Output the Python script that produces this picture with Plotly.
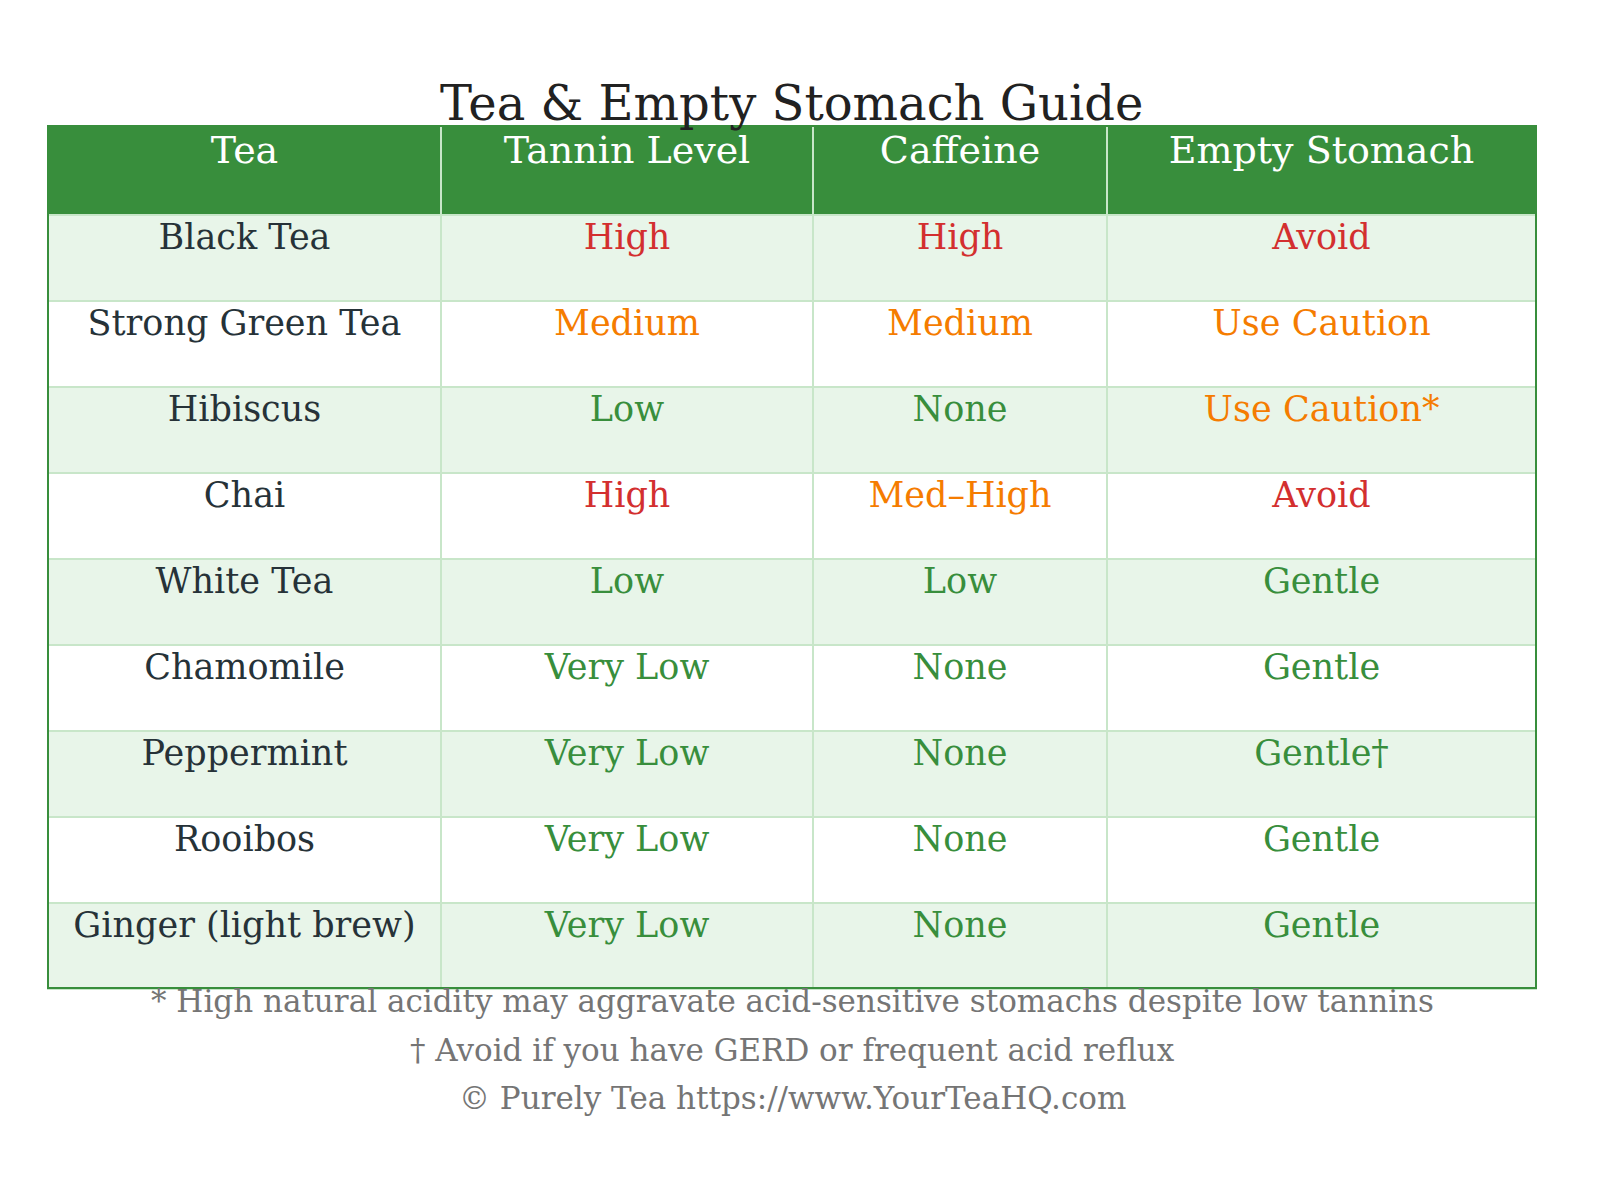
import plotly.graph_objects as go

headers = ["Tea", "Tannin Level", "Caffeine", "Empty Stomach"]
teas = ["Black Tea", "Strong Green Tea", "Hibiscus", "Chai", "White Tea", "Chamomile", "Peppermint", "Rooibos", "Ginger (light brew)"]
tannin = ["High", "Medium", "Low", "High", "Low", "Very Low", "Very Low", "Very Low", "Very Low"]
caffeine = ["High", "Medium", "None", "Med–High", "Low", "None", "None", "None", "None"]
stomach = ["Avoid", "Use Caution", "Use Caution*", "Avoid", "Gentle", "Gentle", "Gentle†", "Gentle", "Gentle"]
footnotes = ["* High natural acidity may aggravate acid-sensitive stomachs despite low tannins",
             "† Avoid if you have GERD or frequent acid reflux",
             "© Purely Tea https://www.YourTeaHQ.com"]

RED, ORANGE, GREEN, DARK = "#D32F2F", "#F57C00", "#388E3C", "#263238"
def col(v):
    if v.startswith("High") or v.startswith("Avoid"):
        return RED
    if v.startswith("Medium") or v.startswith("Med") or v.startswith("Use"):
        return ORANGE
    return GREEN

fills = ["#E8F5E9" if i % 2 == 0 else "#FFFFFF" for i in range(len(teas))]
font_colors = [[DARK]*len(teas), [col(v) for v in tannin], [col(v) for v in caffeine], [col(v) for v in stomach]]

FONT = "DejaVu Serif"
fig = go.Figure(go.Table(
    columnwidth=[393, 372, 294, 429],
    domain=dict(x=[40/1600, 1528/1600], y=[1-982/1187, 1-118/1187]),
    header=dict(values=headers, fill_color=GREEN, height=89, align="center",
                font=dict(family=FONT, size=38, color="white"),
                line=dict(color="#C8E6C9", width=2)),
    cells=dict(values=[teas, tannin, caffeine, stomach], height=86, align="center",
               fill_color=[fills]*4, font=dict(family=FONT, size=35, color=font_colors),
               line=dict(color="#C8E6C9", width=2)),
))
fig.add_shape(type="rect", xref="paper", yref="paper", x0=40/1600, x1=1528/1600,
              y0=1-980/1187, y1=1-118/1187, line=dict(color=GREEN, width=2))
fig.add_annotation(text="Tea & Empty Stomach Guide", x=0.49, y=1-65/1187, xref="paper", yref="paper",
                   showarrow=False, font=dict(family=FONT, size=48, color="#212121"))
for i, (t, yy) in enumerate(zip(footnotes, [1013, 1062, 1110])):
    fig.add_annotation(text=t, x=0.49, y=1-yy/1187, xref="paper", yref="paper", showarrow=False,
                       font=dict(family=FONT, size=31, color="#757575"))
fig.update_layout(width=1600, height=1187, margin=dict(l=0, r=0, t=0, b=0),
                  paper_bgcolor="white", plot_bgcolor="white")
fig.write_html("out.html")
